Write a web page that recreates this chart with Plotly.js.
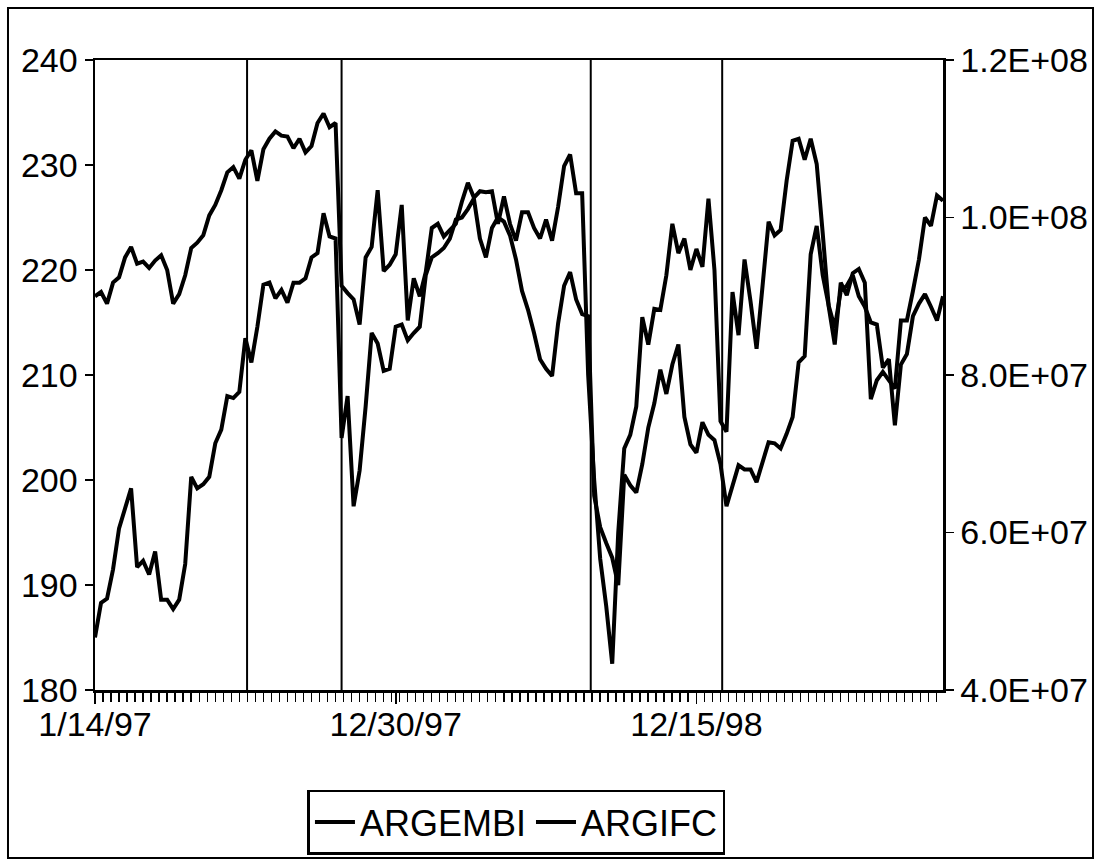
<!DOCTYPE html>
<html>
<head>
<meta charset="utf-8">
<script src="https://cdn.plot.ly/plotly-3.0.1.min.js"></script>
<style>
  html, body { margin: 0; padding: 0; background: #fff; }
  #chart { width: 1102px; height: 867px; }
</style>
</head>
<body>
<div id="chart"></div>
<script>
// Weekly observations, first week 1997-01-14
const startDate = '1997-01-14';

// ARGEMBI (left axis)
const ARGEMBI = [
  217.5, 217.9, 216.8, 218.8, 219.3, 221.2, 222.2, 220.6, 220.8, 220.2,
  220.9, 221.4, 220.0, 216.8, 217.7, 219.5, 222.1, 222.6, 223.3, 225.2,
  226.2, 227.6, 229.3, 229.8, 228.7, 230.5, 231.4, 228.5, 231.5, 232.5,
  233.2, 232.8, 232.7, 231.6, 232.5, 231.2, 231.8, 234.0, 234.9, 233.6,
  234.0, 218.5, 217.8, 217.2, 214.8, 221.2, 222.2, 227.6, 219.9, 220.5,
  221.5, 226.2, 215.2, 219.2, 217.5, 219.8, 224.0, 224.4, 223.2, 223.8,
  224.4, 226.5, 228.3, 226.9, 227.5, 227.4, 227.5, 224.4, 227.0, 224.4,
  222.8, 225.5, 225.5, 224.0, 223.0, 224.8, 222.8, 226.0, 229.9, 231.0,
  227.3, 227.3, 210.0, 200.0, 192.5, 188.0, 182.5, 195.0, 203.0, 204.3,
  207.0, 215.5, 212.9, 216.3, 216.2, 219.5, 224.4, 221.6, 223.0, 220.0,
  222.0, 220.3, 226.8, 220.0, 205.6, 204.6, 217.9, 213.8, 221.0, 217.0,
  212.5, 218.5, 224.6, 223.3, 223.8, 228.5, 232.3, 232.5, 230.5, 232.5,
  230.1, 223.5, 216.5, 212.9, 218.8, 217.6, 219.7, 220.1, 218.8, 207.7,
  209.5, 210.3, 209.5, 208.7, 215.2, 215.2, 218.0, 221.0, 225.0, 224.2,
  227.1, 226.6
];

// ARGIFC (right axis)
const ARGIFC = [
  4.667e7, 5.107e7, 5.160e7, 5.533e7, 6.053e7, 6.293e7, 6.560e7, 5.560e7, 5.640e7, 5.467e7,
  5.760e7, 5.147e7, 5.147e7, 5.027e7, 5.147e7, 5.600e7, 6.707e7, 6.560e7, 6.613e7, 6.707e7,
  7.133e7, 7.307e7, 7.733e7, 7.707e7, 7.787e7, 8.467e7, 8.160e7, 8.613e7, 9.147e7, 9.173e7,
  8.973e7, 9.080e7, 8.920e7, 9.173e7, 9.173e7, 9.227e7, 9.493e7, 9.547e7, 10.053e7, 9.760e7,
  9.733e7, 7.200e7, 7.733e7, 6.333e7, 6.787e7, 7.600e7, 8.533e7, 8.400e7, 8.053e7, 8.080e7,
  8.613e7, 8.640e7, 8.440e7, 8.533e7, 8.613e7, 9.267e7, 9.493e7, 9.547e7, 9.613e7, 9.733e7,
  9.973e7, 10.000e7, 10.107e7, 10.240e7, 9.733e7, 9.493e7, 9.867e7, 10.000e7, 9.947e7, 9.773e7,
  9.467e7, 9.067e7, 8.827e7, 8.533e7, 8.200e7, 8.080e7, 7.987e7, 8.653e7, 9.133e7, 9.307e7,
  8.960e7, 8.773e7, 8.747e7, 6.467e7, 6.067e7, 5.867e7, 5.680e7, 5.333e7, 6.733e7, 6.600e7,
  6.507e7, 6.867e7, 7.333e7, 7.640e7, 8.067e7, 7.760e7, 8.133e7, 8.387e7, 7.467e7, 7.120e7,
  7.013e7, 7.400e7, 7.240e7, 7.173e7, 6.867e7, 6.333e7, 6.573e7, 6.853e7, 6.800e7, 6.800e7,
  6.640e7, 6.907e7, 7.147e7, 7.133e7, 7.067e7, 7.253e7, 7.467e7, 8.160e7, 8.240e7, 9.533e7,
  9.893e7, 9.267e7, 8.880e7, 8.600e7, 9.067e7, 9.133e7, 9.267e7, 9.000e7, 8.867e7, 8.667e7,
  8.640e7, 8.093e7, 8.200e7, 7.360e7, 8.133e7, 8.267e7, 8.747e7, 8.907e7, 9.027e7, 8.867e7,
  8.693e7, 9.000e7
];

// Event markers (vertical lines)
const eventDates = ['1997-07-10', '1997-10-28', '1998-08-14', '1999-01-14'];

// Tick labels
const xTickDates = ['1997-01-14', '1997-12-30', '1998-12-15'];
const xTickLabels = ['1/14/97', '12/30/97', '12/15/98'];
const leftTicks = [180, 190, 200, 210, 220, 230, 240];
const rightTickVals = [4e7, 6e7, 8e7, 1e8, 1.2e8];
const rightTickLabels = ['4.0E+07', '6.0E+07', '8.0E+07', '1.0E+08', '1.2E+08'];

// Build weekly date categories
const DAY = 86400000;
const t0 = Date.parse(startDate + 'T00:00:00Z');
const dates = ARGEMBI.map((_, i) => new Date(t0 + i * 7 * DAY).toISOString().slice(0, 10));
const tEnd = t0 + (ARGEMBI.length - 1) * 7 * DAY;
const minorTicks = [];
for (let t = t0; t <= tEnd + 1; t += 9.33 * DAY) {
  minorTicks.push(new Date(t).toISOString().slice(0, 19));
}

const FONT = 'Liberation Sans, Arial, sans-serif';

const traces = [
  { x: dates, y: ARGEMBI, name: 'ARGEMBI', type: 'scatter', mode: 'lines',
    line: { color: '#000', width: 4 }, yaxis: 'y' },
  { x: dates, y: ARGIFC, name: 'ARGIFC', type: 'scatter', mode: 'lines',
    line: { color: '#000', width: 4 }, yaxis: 'y2' }
];

const shapes = eventDates.map(d => ({
  type: 'line', xref: 'x', yref: 'paper', x0: d, x1: d, y0: 0, y1: 1,
  line: { color: '#000', width: 2 }
}));
// outer frame
shapes.push({ type: 'rect', xref: 'paper', yref: 'paper',
  x0: -0.1026, x1: 1.1769, y0: -0.2667, y1: 1.0825,
  line: { color: '#000', width: 2 } });

const layout = {
  width: 1102, height: 867,
  margin: { l: 95, r: 159, t: 60, b: 177, autoexpand: false },
  paper_bgcolor: '#fff', plot_bgcolor: '#fff',
  font: { family: FONT, color: '#000', size: 34 },
  showlegend: true,
  legend: {
    orientation: 'h', x: 0.497, xanchor: 'center', y: -0.158, yanchor: 'top',
    bordercolor: '#000', borderwidth: 2.5, bgcolor: '#fff',
    font: { family: FONT, size: 36, color: '#000' },
    itemwidth: 40, tracegroupgap: 0
  },
  xaxis: {
    type: 'date', automargin: false,
    range: [dates[0], dates[dates.length - 1]],
    tickmode: 'array', tickvals: xTickDates, ticktext: xTickLabels,
    ticks: 'outside', ticklen: 11, tickwidth: 1.6, tickcolor: '#000',
    ticklabelstandoff: -8,
    minor: { ticks: 'outside', tickmode: 'array', tickvals: minorTicks,
             ticklen: 9, tickwidth: 1.4, tickcolor: '#000', showgrid: false },
    showgrid: false, zeroline: false,
    showline: true, linecolor: '#000', linewidth: 2.5, mirror: true,
    tickfont: { family: FONT, size: 34, color: '#000' }
  },
  yaxis: {
    automargin: false,
    range: [180, 240], tickmode: 'array', tickvals: leftTicks,
    ticks: 'outside', ticklen: 8, tickwidth: 1.6, tickcolor: '#000',
    showgrid: false, zeroline: false,
    showline: true, linecolor: '#000', linewidth: 2.5,
    tickfont: { family: FONT, size: 34, color: '#000' }
  },
  yaxis2: {
    automargin: false,
    overlaying: 'y', side: 'right',
    range: [4e7, 1.2e8], tickmode: 'array', tickvals: rightTickVals, ticktext: rightTickLabels,
    ticks: 'outside', ticklen: 8, tickwidth: 1.6, tickcolor: '#000',
    showgrid: false, zeroline: false,
    showline: true, linecolor: '#000', linewidth: 2.5,
    tickfont: { family: FONT, size: 34, color: '#000' }
  },
  shapes: shapes
};

Plotly.newPlot('chart', traces, layout, { displayModeBar: false, staticPlot: true });
</script>
</body>
</html>
